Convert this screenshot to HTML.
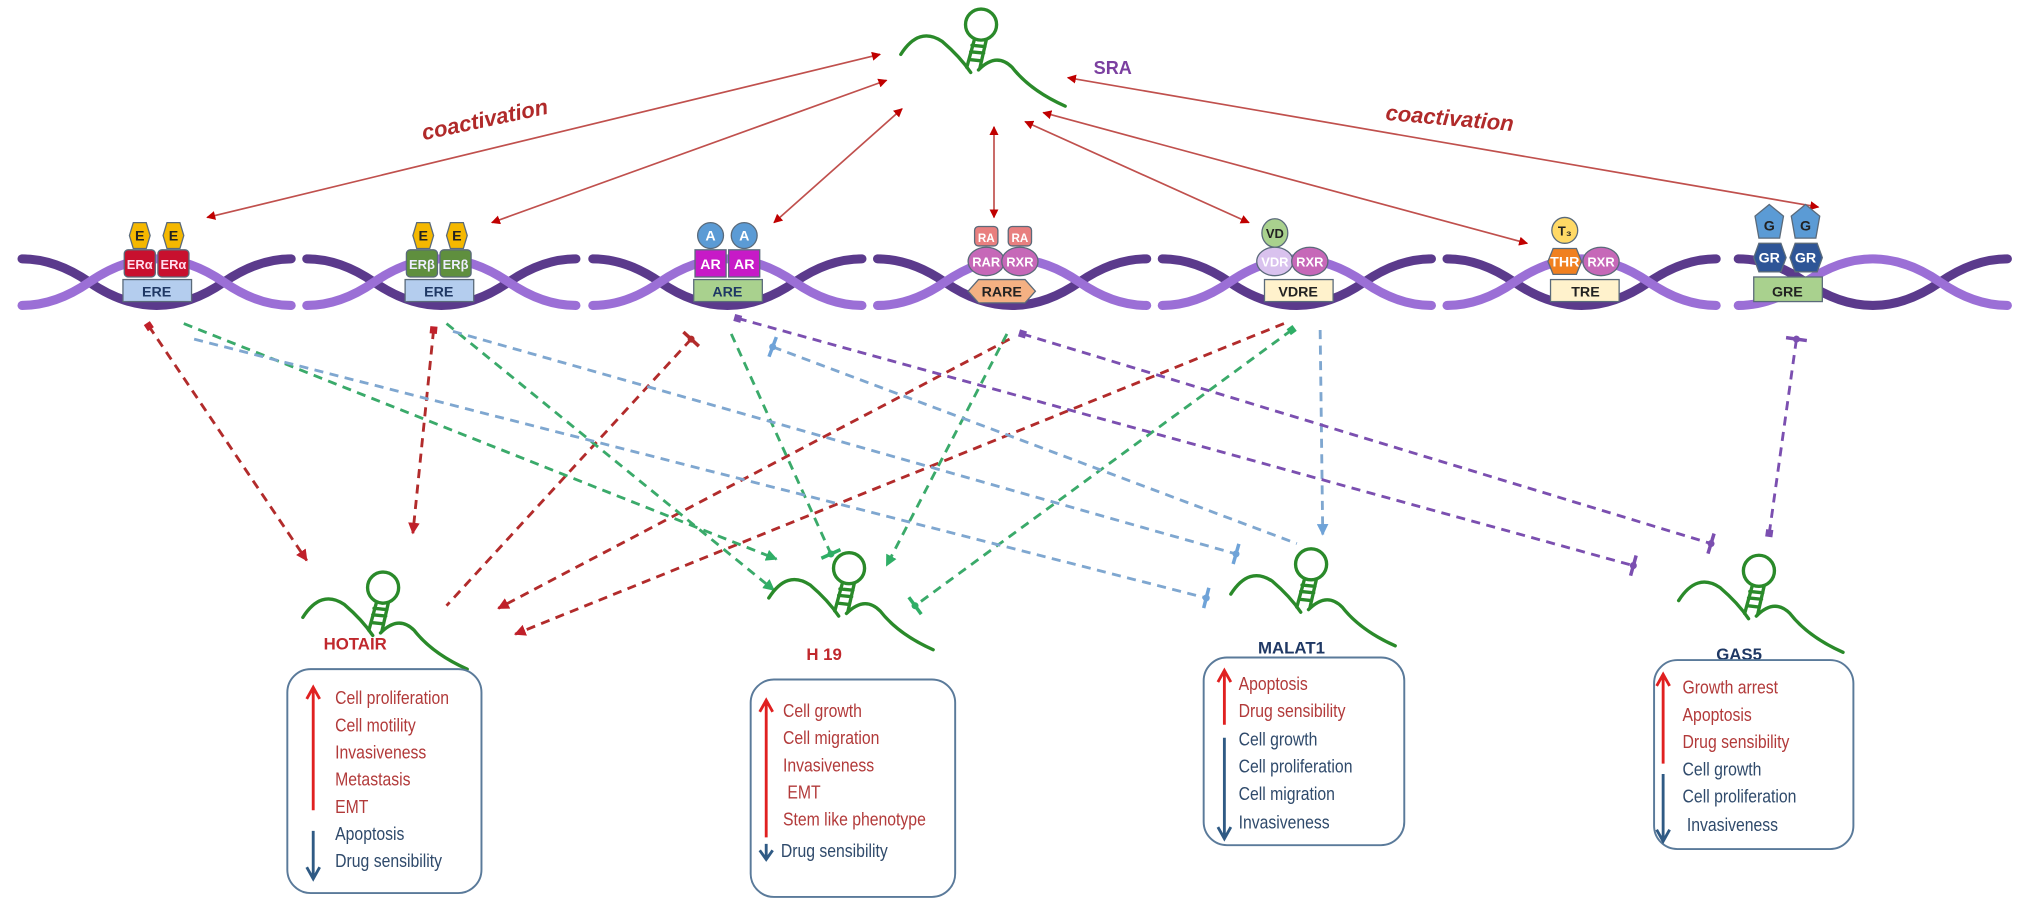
<!DOCTYPE html>
<html><head><meta charset="utf-8"><style>
html,body{margin:0;padding:0;background:#fff;}
svg{display:block;}
.t{font-family:"Liberation Sans Narrow","Liberation Sans",sans-serif;font-size:14.5px;}
.r{fill:#b23a3a;} .b{fill:#2f4a6b;}
.lb{font-family:"Liberation Sans",sans-serif;font-weight:bold;font-size:11px;text-anchor:middle;}
</style></head><body>
<svg width="2032" height="917" viewBox="0 0 1570 708.5" xmlns="http://www.w3.org/2000/svg">
<defs>
<marker id="ar" viewBox="0 0 10 10" refX="9" refY="5" markerWidth="7" markerHeight="7" orient="auto-start-reverse" markerUnits="userSpaceOnUse"><path d="M0,0L10,5L0,10z" fill="#c00000"/></marker>
<marker id="ad" viewBox="0 0 10 10" refX="9" refY="5" markerWidth="9" markerHeight="9" orient="auto" markerUnits="userSpaceOnUse"><path d="M0,0L10,5L0,10z" fill="#c0202a"/></marker>
<marker id="ag" viewBox="0 0 10 10" refX="9" refY="5" markerWidth="9" markerHeight="9" orient="auto" markerUnits="userSpaceOnUse"><path d="M0,0L10,5L0,10z" fill="#2fae66"/></marker>
<marker id="ab" viewBox="0 0 10 10" refX="9" refY="5" markerWidth="9" markerHeight="9" orient="auto" markerUnits="userSpaceOnUse"><path d="M0,0L10,5L0,10z" fill="#6fa3d8"/></marker>
<marker id="tr" viewBox="-10 -10 20 20" markerWidth="18" markerHeight="18" orient="auto" markerUnits="userSpaceOnUse"><path d="M0,-9L0,9" stroke="#b22b2b" stroke-width="3"/><circle r="3" fill="#b22b2b"/></marker>
<marker id="tg" viewBox="-10 -10 20 20" markerWidth="18" markerHeight="18" orient="auto" markerUnits="userSpaceOnUse"><path d="M0,-9L0,9" stroke="#2fae66" stroke-width="3"/><circle r="3" fill="#2fae66"/></marker>
<marker id="tb" viewBox="-10 -10 20 20" markerWidth="18" markerHeight="18" orient="auto" markerUnits="userSpaceOnUse"><path d="M0,-9L0,9" stroke="#6fa3d8" stroke-width="3"/><circle r="3" fill="#6fa3d8"/></marker>
<marker id="tp" viewBox="-10 -10 20 20" markerWidth="18" markerHeight="18" orient="auto" markerUnits="userSpaceOnUse"><path d="M0,-9L0,9" stroke="#7b4fb0" stroke-width="3"/><circle r="3" fill="#7b4fb0"/></marker>
<marker id="sr" viewBox="-5 -5 10 10" markerWidth="7" markerHeight="7" orient="auto" markerUnits="userSpaceOnUse"><rect x="-4" y="-4" width="8" height="8" fill="#c0202a"/></marker>
<marker id="sg" viewBox="-5 -5 10 10" markerWidth="7" markerHeight="7" orient="auto" markerUnits="userSpaceOnUse"><rect x="-4" y="-4" width="8" height="8" fill="#2fae66"/></marker>
<marker id="sp" viewBox="-5 -5 10 10" markerWidth="7" markerHeight="7" orient="auto" markerUnits="userSpaceOnUse"><rect x="-4" y="-4" width="8" height="8" fill="#7b4fb0"/></marker>
<g id="rna" fill="none" stroke="#2a8a2a" stroke-width="2.6" stroke-linecap="round">
<path d="M-56,-14 Q-42,-36 -24,-24 Q-10,-12 -2,0"/>
<path d="M4,-2 Q18,-16 30,-4 Q44,14 71,26"/>
<path d="M-5,-4 L1,-26 M5,-3 L10,-25 M-3,-10 L6,-9 M-2,-16 L8,-15 M-1,-21 L9,-20"/>
<circle cx="6" cy="-37" r="12"/>
</g>
<g id="dna" fill="none" stroke-linecap="round">
<path d="M0,200 Q26,200 52,218 T104,236 T156,218 T208,200" stroke="#5b3a8c" stroke-width="7"/>
<path d="M0,236 Q26,236 52,218 T104,200 T156,218 T208,236" stroke="#9b6fd6" stroke-width="7"/>
</g>
</defs>

<!-- DNA -->
<use href="#dna" x="17"/><use href="#dna" x="237"/><use href="#dna" x="458"/><use href="#dna" x="678"/><use href="#dna" x="898"/><use href="#dna" x="1118"/><use href="#dna" x="1343"/>

<!-- SRA -->
<use href="#rna" x="752" y="56"/>
<text x="845" y="57" font-family="Liberation Sans" font-weight="bold" font-size="14" fill="#7b3fa0">SRA</text>
<text x="325" y="97" transform="rotate(-12 380 92)" font-family="Liberation Sans" font-style="italic" font-weight="bold" font-size="17" fill="#b02a2a">coactivation</text>
<text x="1070" y="97" transform="rotate(5 1120 97)" font-family="Liberation Sans" font-style="italic" font-weight="bold" font-size="17" fill="#b02a2a">coactivation</text>

<!-- solid arrows -->
<g stroke="#c0504d" stroke-width="1.3" marker-start="url(#ar)" marker-end="url(#ar)">
<line x1="680" y1="42" x2="160" y2="168"/>
<line x1="685" y1="62" x2="380" y2="172"/>
<line x1="697" y1="84" x2="598" y2="172"/>
<line x1="768" y1="98" x2="768" y2="168"/>
<line x1="792" y1="94" x2="965" y2="172"/>
<line x1="806" y1="87" x2="1180" y2="188"/>
<line x1="825" y1="60" x2="1405" y2="160"/>
</g>

<g stroke="#5a6a7a" stroke-width="1">
<polygon points="100,182 103,172 113,172 116,182 113,192 103,192" fill="#f5b800"/>
<polygon points="126,182 129,172 139,172 142,182 139,192 129,192" fill="#f5b800"/>
<rect x="96" y="193" width="24" height="21" rx="3" fill="#c8102e"/><rect x="122" y="193" width="24" height="21" rx="3" fill="#c8102e"/>
<rect x="95" y="216" width="53" height="17" fill="#b4cdee"/>
<polygon points="319,182 322,172 332,172 335,182 332,192 322,192" fill="#f5b800"/>
<polygon points="345,182 348,172 358,172 361,182 358,192 348,192" fill="#f5b800"/>
<rect x="314" y="193" width="24" height="21" rx="3" fill="#5f8f3e"/><rect x="340" y="193" width="24" height="21" rx="3" fill="#5f8f3e"/>
<rect x="313" y="216" width="53" height="17" fill="#b4cdee"/>
<circle cx="549" cy="182" r="10" fill="#5b9bd5"/><circle cx="575" cy="182" r="10" fill="#5b9bd5"/>
<rect x="537" y="193" width="24" height="21" fill="#c71ac7"/><rect x="563" y="193" width="24" height="21" fill="#c71ac7"/>
<rect x="536" y="216" width="53" height="17" fill="#a9d18e"/>
<rect x="753" y="175" width="18" height="15" rx="3" fill="#e87f7f"/><rect x="779" y="175" width="18" height="15" rx="3" fill="#e87f7f"/>
<ellipse cx="762" cy="202" rx="14" ry="11" fill="#c668b8"/><ellipse cx="788" cy="202" rx="14" ry="11" fill="#c668b8"/>
<polygon points="748,225 756,216 792,216 800,225 792,234 756,234" fill="#f4b183"/>
<ellipse cx="985" cy="180" rx="10" ry="11" fill="#a9d18e"/>
<ellipse cx="985" cy="202" rx="14" ry="11" fill="#d9c2ee"/><ellipse cx="1012" cy="202" rx="14" ry="11" fill="#c668b8"/>
<rect x="977" y="216" width="53" height="17" fill="#fff2cc"/>
<circle cx="1209" cy="178" r="10" fill="#ffd966"/>
<polygon points="1196,202 1200,192 1218,192 1222,202 1218,212 1200,212" fill="#f08020"/>
<ellipse cx="1237" cy="202" rx="14" ry="11" fill="#c668b8"/>
<rect x="1198" y="216" width="53" height="17" fill="#fff2cc"/>
<polygon points="1367,158 1378,167 1375,184 1359,184 1356,167" fill="#5b9bd5"/>
<polygon points="1395,158 1406,167 1403,184 1387,184 1384,167" fill="#5b9bd5"/>
<polygon points="1355,199 1359,188 1376,188 1380,199 1376,210 1359,210" fill="#2e5597"/>
<polygon points="1383,199 1387,188 1404,188 1408,199 1404,210 1387,210" fill="#2e5597"/>
<rect x="1355" y="214" width="53" height="19" fill="#a9d18e"/>
</g>
<g class="lb">
<text x="108" y="186" fill="#222">E</text><text x="134" y="186" fill="#222">E</text>
<text x="108" y="208" fill="#fde" font-size="10">ERα</text><text x="134" y="208" fill="#fde" font-size="10">ERα</text>
<text x="121" y="229" fill="#1f3864">ERE</text>
<text x="327" y="186" fill="#222">E</text><text x="353" y="186" fill="#222">E</text>
<text x="326" y="208" fill="#eef" font-size="10">ERβ</text><text x="352" y="208" fill="#eef" font-size="10">ERβ</text>
<text x="339" y="229" fill="#1f3864">ERE</text>
<text x="549" y="186" fill="#fff">A</text><text x="575" y="186" fill="#fff">A</text>
<text x="549" y="208" fill="#fff">AR</text><text x="575" y="208" fill="#fff">AR</text>
<text x="562" y="229" fill="#1f3864">ARE</text>
<text x="762" y="187" fill="#fff" font-size="9">RA</text><text x="788" y="187" fill="#fff" font-size="9">RA</text>
<text x="762" y="206" fill="#fff" font-size="10">RAR</text><text x="788" y="206" fill="#fff" font-size="10">RXR</text>
<text x="774" y="229" fill="#222">RARE</text>
<text x="985" y="184" fill="#222" font-size="10">VD</text>
<text x="985" y="206" fill="#fff" font-size="10">VDR</text><text x="1012" y="206" fill="#fff" font-size="10">RXR</text>
<text x="1003" y="229" fill="#222">VDRE</text>
<text x="1209" y="182" fill="#222" font-size="10">T₃</text>
<text x="1209" y="206" fill="#fff">THR</text><text x="1237" y="206" fill="#fff" font-size="10">RXR</text>
<text x="1225" y="229" fill="#222">TRE</text>
<text x="1367" y="178" fill="#222">G</text><text x="1395" y="178" fill="#222">G</text>
<text x="1367" y="203" fill="#fff">GR</text><text x="1395" y="203" fill="#fff">GR</text>
<text x="1381" y="229" fill="#222">GRE</text>
</g>

<!-- dashed -->
<g fill="none" stroke-width="2.2" stroke-dasharray="7 5">
<g stroke="#b22b2b">
<line x1="115" y1="252" x2="237" y2="433" marker-start="url(#sr)" marker-end="url(#ad)"/>
<line x1="335" y1="255" x2="319" y2="412" marker-start="url(#sr)" marker-end="url(#ad)"/>
<line x1="534" y1="262" x2="345" y2="468" marker-start="url(#tr)"/>
<line x1="780" y1="262" x2="385" y2="470" marker-end="url(#ad)"/>
<line x1="992" y1="250" x2="398" y2="490" marker-end="url(#ad)"/>
</g>
<g stroke="#3aaa6a">
<line x1="142" y1="250" x2="600" y2="432" marker-end="url(#ag)"/>
<line x1="345" y1="250" x2="598" y2="456" marker-end="url(#ag)"/>
<line x1="565" y1="258" x2="642" y2="428" marker-end="url(#tg)"/>
<line x1="778" y1="258" x2="685" y2="437" marker-end="url(#ag)"/>
<line x1="998" y1="255" x2="707" y2="468" marker-start="url(#sg)" marker-end="url(#tg)"/>
</g>
<g stroke="#7fa7d0">
<line x1="150" y1="262" x2="932" y2="462" marker-end="url(#tb)"/>
<line x1="350" y1="256" x2="955" y2="428" marker-end="url(#tb)"/>
<line x1="597" y1="268" x2="1002" y2="420" marker-start="url(#tb)"/>
<line x1="1020" y1="255" x2="1022" y2="413" marker-end="url(#ab)"/>
</g>
<g stroke="#7b4fb0">
<line x1="570" y1="246" x2="1262" y2="437" marker-start="url(#sp)" marker-end="url(#tp)"/>
<line x1="790" y1="258" x2="1322" y2="420" marker-start="url(#sp)" marker-end="url(#tp)"/>
<line x1="1367" y1="412" x2="1388" y2="262" marker-start="url(#sp)" marker-end="url(#tp)"/>
</g>
</g>

<!-- lncRNAs -->
<use href="#rna" x="290" y="491"/>
<use href="#rna" x="650" y="476"/>
<use href="#rna" x="1007" y="473"/>
<use href="#rna" x="1353" y="478"/>
<g font-family="Liberation Sans" font-weight="bold" font-size="13">
<text x="250" y="502" fill="#c0282d">HOTAIR</text>
<text x="623" y="510" fill="#c0282d">H 19</text>
<text x="972" y="505" fill="#1f3864">MALAT1</text>
<text x="1326" y="510" fill="#1f3864">GAS5</text>
</g>

<!-- boxes -->
<g fill="none" stroke="#5a7a9a" stroke-width="1.5">
<rect x="222" y="517" width="150" height="173" rx="18"/>
<rect x="580" y="525" width="158" height="168" rx="18"/>
<rect x="930" y="508" width="155" height="145" rx="18"/>
<rect x="1278" y="510" width="154" height="146" rx="18"/>
</g>
<g stroke-width="2.2" fill="none">
<path d="M242,626V533M237,540L242,531L247,540" stroke="#e02020"/>
<path d="M242,642V677M237,670L242,679L247,670" stroke="#2f5a84"/>
<path d="M592,647V543M587,550L592,541L597,550" stroke="#e02020"/>
<path d="M592,652V663M587,657L592,664L597,657" stroke="#2f5a84"/>
<path d="M946,560V520M941,527L946,518L951,527" stroke="#e02020"/>
<path d="M946,570V646M941,639L946,648L951,639" stroke="#2f5a84"/>
<path d="M1285,590V523M1280,530L1285,521L1290,530" stroke="#e02020"/>
<path d="M1285,598V648M1280,641L1285,650L1290,641" stroke="#2f5a84"/>
</g>
<g class="t" transform="matrix(0.84,0,0,1,41.4,0)">
<text class="r" x="259" y="544">Cell proliferation</text>
<text class="r" x="259" y="565">Cell motility</text>
<text class="r" x="259" y="586">Invasiveness</text>
<text class="r" x="259" y="607">Metastasis</text>
<text class="r" x="259" y="628">EMT</text>
<text class="b" x="259" y="649">Apoptosis</text>
<text class="b" x="259" y="670">Drug sensibility</text>
</g>
<g class="t" transform="matrix(0.84,0,0,1,96.8,0)">
<text class="r" x="605" y="554">Cell growth</text>
<text class="r" x="605" y="575">Cell migration</text>
<text class="r" x="605" y="596">Invasiveness</text>
<text class="r" x="609" y="617">EMT</text>
<text class="r" x="605" y="638">Stem like phenotype</text>
<text class="b" x="603" y="662">Drug sensibility</text>
</g>
<g class="t" transform="matrix(0.84,0,0,1,153.1,0)">
<text class="r" x="957" y="533">Apoptosis</text>
<text class="r" x="957" y="554">Drug sensibility</text>
<text class="b" x="957" y="576">Cell growth</text>
<text class="b" x="957" y="597">Cell proliferation</text>
<text class="b" x="957" y="618">Cell migration</text>
<text class="b" x="957" y="640">Invasiveness</text>
</g>
<g class="t" transform="matrix(0.84,0,0,1,208,0)">
<text class="r" x="1300" y="536">Growth arrest</text>
<text class="r" x="1300" y="557">Apoptosis</text>
<text class="r" x="1300" y="578">Drug sensibility</text>
<text class="b" x="1300" y="599">Cell growth</text>
<text class="b" x="1300" y="620">Cell proliferation</text>
<text class="b" x="1304" y="642">Invasiveness</text>
</g>
</svg>
</body></html>
